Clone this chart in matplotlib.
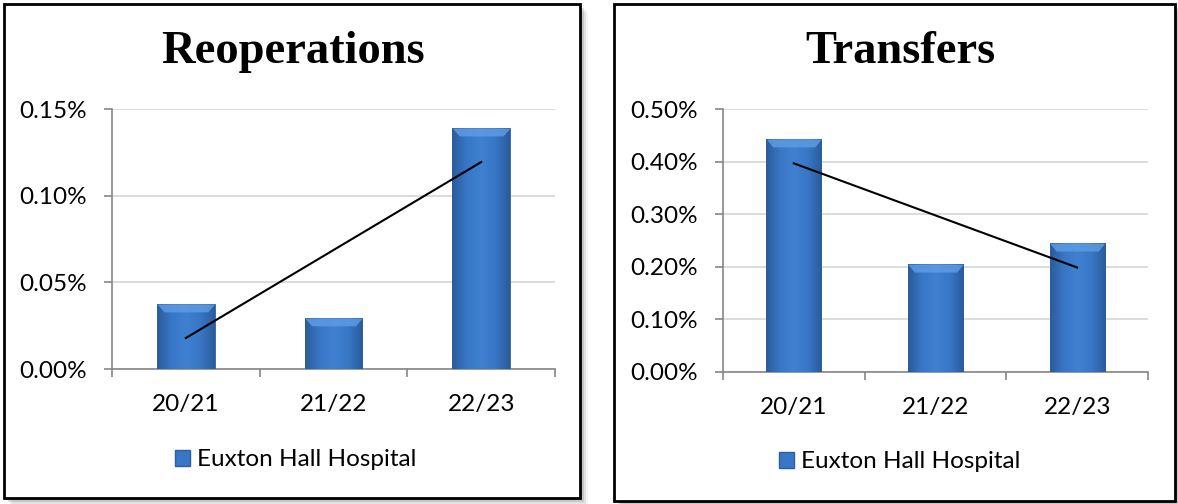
import numpy as np
import matplotlib.pyplot as plt
from matplotlib.patches import Rectangle, Patch
from matplotlib.colors import LinearSegmentedColormap

# data
years = ['20/21', '21/22', '22/23']
reoperations = [0.0375, 0.0294, 0.139]   # percent
transfers = [0.443, 0.205, 0.245]        # percent
series_name = 'Euxton Hall Hospital'

plt.rcParams['font.family'] = ['Lato', 'DejaVu Sans']

W, H = 1178, 504
fig = plt.figure(figsize=(W / 100, H / 100), dpi=100)

# blue gradient: dark edges, lighter centre (Excel bevel look)
bar_cmap = LinearSegmentedColormap.from_list(
    'bevel', ['#2b5c9c', '#3877c6', '#3f80d0', '#3877c6', '#2b5c9c'])


def px(x0, y0, x1, y1):
    # pixel box (top-left origin) -> figure fraction rect
    return [x0 / W, 1 - y1 / H, (x1 - x0) / W, (y1 - y0) / H]


def panel_frame(x0, y0, x1, y1):
    # soft drop shadow then the black border
    for i, a in enumerate([0.18, 0.12, 0.07, 0.04]):
        off = 2 + 2 * i
        fig.patches.append(Rectangle(((x0 + off) / W, 1 - (y1 + off) / H),
                                     (x1 - x0) / W, (y1 - y0) / H,
                                     transform=fig.transFigure, facecolor='black',
                                     alpha=a, edgecolor='none', zorder=0))
    fig.patches.append(Rectangle((x0 / W, 1 - y1 / H), (x1 - x0) / W, (y1 - y0) / H,
                                 transform=fig.transFigure, facecolor='white',
                                 edgecolor='black', linewidth=2, zorder=1))


def draw_chart(rect, values, title, ymax, step, title_x, legend_xy):
    ax = fig.add_axes(rect)
    ax.set_zorder(2)
    ax.patch.set_alpha(0)
    x = np.arange(len(years))
    bars = ax.bar(x, values, width=0.39, color='#3877c6', edgecolor='#2d5f9e',
                  linewidth=0.6, zorder=3)
    grad = np.linspace(0, 1, 64).reshape(1, -1)
    for b in bars:
        bx, by = b.get_x(), b.get_y()
        bw, bh = b.get_width(), b.get_height()
        im = ax.imshow(grad, cmap=bar_cmap, aspect='auto', zorder=3.5,
                       extent=[bx, bx + bw, by, by + bh], interpolation='bicubic')
        im.set_clip_path(b)
        # lighter top bevel
        ax.fill_between([bx, bx + bw * 0.12, bx + bw * 0.88, bx + bw],
                        [by + bh] * 4,
                        [by + bh, by + bh - ymax * 0.03, by + bh - ymax * 0.03, by + bh],
                        color='#5d9be3', alpha=0.85, lw=0, zorder=3.6)

    # linear trendline
    k, c = np.polyfit(x, values, 1)
    ax.plot(x, k * x + c, color='black', lw=1.5, zorder=4)

    ax.set_xlim(-0.5, len(years) - 0.5)
    ax.set_ylim(0, ymax)
    yt = np.arange(0, ymax + step / 2, step)
    ax.set_yticks(yt)
    ax.set_yticklabels([f'{v:.2f}%' for v in yt])
    ax.set_xticks(x)
    ax.set_xticklabels(years)
    ax.set_xticks(np.arange(-0.5, len(years)), minor=True)
    ax.tick_params(axis='x', which='major', length=0, pad=18, labelsize=17.5)
    ax.tick_params(axis='x', which='minor', length=6, width=1.2, color='#868686',
                   direction='out')
    ax.tick_params(axis='y', length=6, width=1.2, color='#868686', pad=12,
                   labelsize=17.5)
    ax.yaxis.grid(True, color='#d9d9d9', lw=1.3)
    ax.set_axisbelow(True)
    for s in ['top', 'right']:
        ax.spines[s].set_visible(False)
    for s in ['left', 'bottom']:
        ax.spines[s].set_color('#868686')
        ax.spines[s].set_linewidth(1.2)

    fig.text(title_x / W, 1 - 52 / H, title, ha='center', va='center',
             fontsize=33.5, fontweight='bold', family='Liberation Serif', zorder=5)
    fig.legend(handles=[Patch(facecolor='#3877c6', edgecolor='#2d5f9e', label=series_name)],
               loc='center', bbox_to_anchor=(legend_xy[0] / W, 1 - legend_xy[1] / H),
               frameon=False, fontsize=17.5, handlelength=0.6, handleheight=0.6,
               handletextpad=0.3)
    return ax


panel_frame(4, 4, 580, 498)
panel_frame(614, 4, 1175, 501)

draw_chart(px(112, 109, 555, 369), reoperations, 'Reoperations', 0.15, 0.05,
           293, (296, 460))
draw_chart(px(723, 109, 1148, 372), transfers, 'Transfers', 0.5, 0.1,
           900, (900, 462))

fig.savefig('out.png', dpi=100)
